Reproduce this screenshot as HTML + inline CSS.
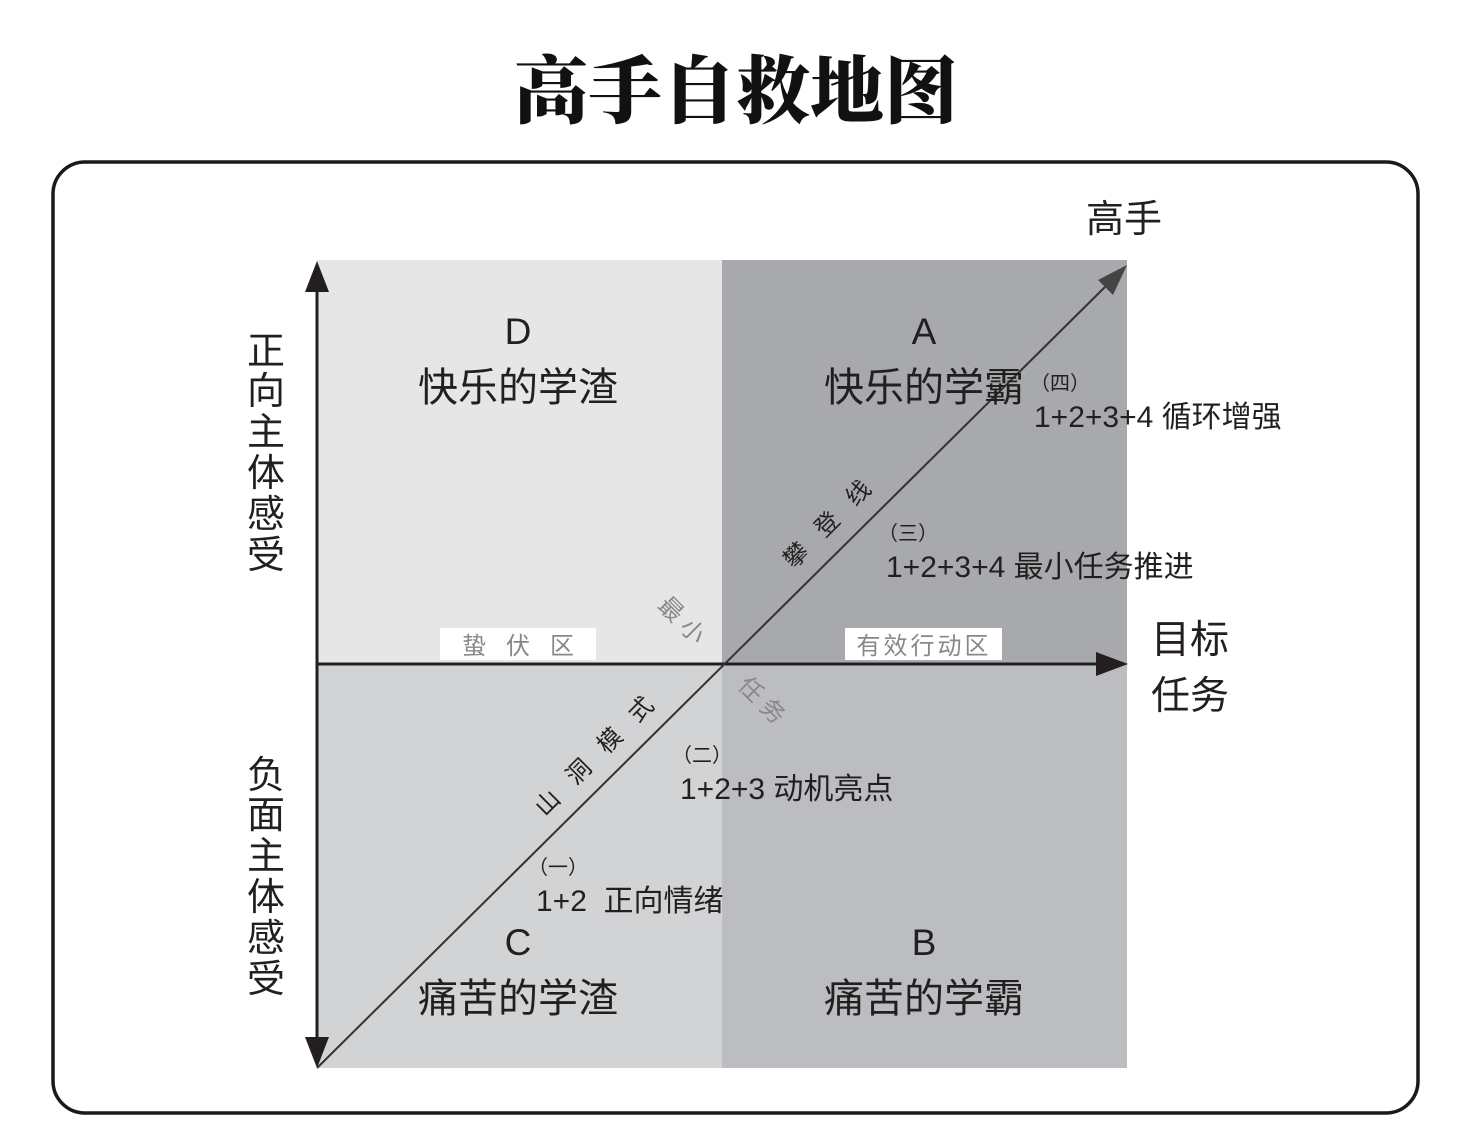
<!DOCTYPE html>
<html><head><meta charset="utf-8"><style>
html,body{margin:0;padding:0;background:#fff;}
svg{display:block;}
text{font-family:"Liberation Sans","Noto Sans CJK SC",sans-serif;}
</style></head><body>
<svg width="1472" height="1146" viewBox="0 0 1472 1146" xmlns="http://www.w3.org/2000/svg">
<text x="736" y="117" text-anchor="middle" font-size="74" font-weight="900" style="font-family:'Noto Serif CJK SC',serif" fill="#111">高手自救地图</text>
<rect x="53" y="162" width="1365" height="951" rx="32" fill="#fff" stroke="#1a1a1a" stroke-width="3.5"/>
<rect x="317" y="260" width="405" height="404" fill="#e6e6e7"/>
<rect x="722" y="260" width="405" height="404" fill="#a8a9ac"/>
<rect x="317" y="664" width="405" height="404" fill="#d2d3d5"/>
<rect x="722" y="664" width="405" height="404" fill="#bcbdc0"/>
<line x1="317" y1="290" x2="317" y2="1040" stroke="#231f20" stroke-width="3"/>
<polygon points="317,261 305,292 329,292" fill="#231f20"/>
<polygon points="317,1068 305,1037 329,1037" fill="#231f20"/>
<line x1="317" y1="664" x2="1100" y2="664" stroke="#231f20" stroke-width="3"/>
<polygon points="1128,664 1096,652 1096,676" fill="#231f20"/>
<line x1="317" y1="1068" x2="1110" y2="282" stroke="#333" stroke-width="2"/>
<polygon points="1127,265 1098,280 1113,295" fill="#444"/>
<g font-size="40" fill="#231f20" text-anchor="middle">
<text x="518" y="344" font-size="37">D</text><text x="518" y="401">快乐的学渣</text>
<text x="924" y="344" font-size="37">A</text><text x="924" y="401">快乐的学霸</text>
<text x="518" y="955" font-size="37">C</text><text x="518" y="1012">痛苦的学渣</text>
<text x="924" y="955" font-size="37">B</text><text x="924" y="1012">痛苦的学霸</text>
</g>
<text x="1124" y="232" font-size="38" text-anchor="middle" fill="#231f20">高手</text>
<text x="1190" y="653" font-size="39" text-anchor="middle" fill="#231f20">目标</text>
<text x="1190" y="709" font-size="39" text-anchor="middle" fill="#231f20">任务</text>
<g font-size="38" fill="#231f20" text-anchor="middle">
<text x="266" y="364">正</text><text x="266" y="404">向</text><text x="266" y="445">主</text><text x="266" y="486">体</text><text x="266" y="527">感</text><text x="266" y="568">受</text>
<text x="266" y="788">负</text><text x="266" y="828">面</text><text x="266" y="869">主</text><text x="266" y="910">体</text><text x="266" y="951">感</text><text x="266" y="992">受</text>
</g>
<rect x="440" y="628" width="156" height="32" fill="#fff"/>
<text x="518" y="654" font-size="24" text-anchor="middle" fill="#888" xml:space="preserve">蛰   伏   区</text>
<rect x="845" y="628" width="157" height="32" fill="#fff"/>
<text x="924" y="654" font-size="24" text-anchor="middle" fill="#888" letter-spacing="3">有效行动区</text>
<text transform="translate(833,530) rotate(-45)" font-size="24" text-anchor="middle" fill="#231f20" xml:space="preserve">攀   登   线</text>
<text transform="translate(600,762) rotate(-45)" font-size="24" text-anchor="middle" fill="#231f20" xml:space="preserve">山   洞   模   式</text>
<text transform="translate(676,626) rotate(45)" font-size="24" text-anchor="middle" fill="#888" xml:space="preserve">最 小</text>
<text transform="translate(756,706) rotate(45)" font-size="24" text-anchor="middle" fill="#888" xml:space="preserve">任 务</text>
<g font-size="30" fill="#231f20">
<text x="1030" y="390" font-size="20">（四）</text>
<text x="1034" y="427">1+2+3+4 循环增强</text>
<text x="878" y="540" font-size="20">（三）</text>
<text x="886" y="577">1+2+3+4 最小任务推进</text>
<text x="672" y="762" font-size="20">（二）</text>
<text x="680" y="799">1+2+3 动机亮点</text>
<text x="528" y="874" font-size="20">（一）</text>
<text x="536" y="911" xml:space="preserve">1+2  正向情绪</text>
</g>
</svg>
</body></html>
